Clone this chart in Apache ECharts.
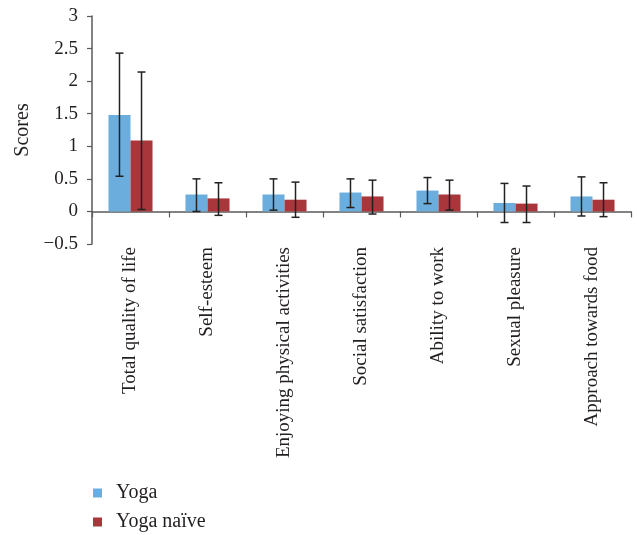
<!DOCTYPE html>
<html><head><meta charset="utf-8">
<script src="https://cdn.jsdelivr.net/npm/echarts@6/dist/echarts.min.js"></script>
<style>html,body{margin:0;padding:0;background:#fff}#c{width:637px;height:535px}</style>
</head><body><div id="c"></div>
<script>
const categories = ['Total quality of life','Self-esteem','Enjoying physical activities','Social satisfaction','Ability to work','Sexual pleasure','Approach towards food'];
const yogaValues = [1.48, 0.26, 0.26, 0.29, 0.32, 0.13, 0.23];
const yogaLow = [0.54, 0.0, 0.02, 0.06, 0.12, -0.17, -0.07];
const yogaHigh = [2.43, 0.50, 0.50, 0.50, 0.52, 0.43, 0.53];
const naiveValues = [1.09, 0.20, 0.18, 0.23, 0.26, 0.12, 0.18];
const naiveLow = [0.03, -0.06, -0.09, -0.04, 0.02, -0.17, -0.08];
const naiveHigh = [2.14, 0.44, 0.45, 0.48, 0.48, 0.39, 0.44];
const seriesNames = ['Yoga', 'Yoga naïve'];
const yTicks = {min: -0.5, max: 3, interval: 0.5};

const FONT = '"Liberation Serif", "DejaVu Serif", serif';
const TXT = '#231f20';
const AX = '#5a5a5a';
const BAR_FRAC = 0.286;

function errSeries(low, high, side) {
  return {
    type: 'custom',
    xAxisIndex: 0,
    z: 5,
    silent: true,
    data: categories.map((c, i) => [i, low[i], high[i]]),
    renderItem: function (params, api) {
      const i = api.value(0);
      const band = api.size([1, 0])[0];
      const bw = band * BAR_FRAC;
      const pLo = api.coord([i, api.value(1)]);
      const pHi = api.coord([i, api.value(2)]);
      const x = pLo[0] + side * bw / 2;
      const cap = 4;
      const st = {stroke: '#222', lineWidth: 1.5};
      return {type: 'group', children: [
        {type: 'line', shape: {x1: x, y1: pLo[1], x2: x, y2: pHi[1]}, style: st},
        {type: 'line', shape: {x1: x - cap, y1: pLo[1], x2: x + cap, y2: pLo[1]}, style: st},
        {type: 'line', shape: {x1: x - cap, y1: pHi[1], x2: x + cap, y2: pHi[1]}, style: st}
      ]};
    }
  };
}

function legendFor(name, top) {
  return {
    left: 88, top: top, itemWidth: 9, itemHeight: 9, icon: 'rect',
    data: [name],
    textStyle: {fontFamily: FONT, fontSize: 20, color: TXT, padding: [0, 0, 0, 9]}
  };
}

const chart = echarts.init(document.getElementById('c'));
chart.setOption({
  animation: false,
  grid: {left: 92, right: 6, top: 16, bottom: 291},
  legend: [legendFor(seriesNames[0], 478), legendFor(seriesNames[1], 507)],
  xAxis: [
    {
      type: 'category', data: categories, position: 'bottom',
      axisLine: {show: false, onZero: false}, axisTick: {show: false},
      axisLabel: {rotate: 90, margin: 3, fontFamily: FONT, fontSize: 19, color: TXT, interval: 0}
    },
    {
      type: 'category', data: categories, position: 'bottom',
      axisLine: {show: true, onZero: true, lineStyle: {color: AX, width: 1.5}},
      axisTick: {show: true, interval: 0, length: 6, lineStyle: {color: AX, width: 1.2}},
      axisLabel: {show: false, interval: 0}
    }
  ],
  yAxis: {
    type: 'value', min: yTicks.min, max: yTicks.max, interval: yTicks.interval,
    name: 'Scores', nameLocation: 'middle', nameGap: 58,
    nameTextStyle: {fontFamily: FONT, fontSize: 20, color: TXT},
    axisLine: {show: true, lineStyle: {color: AX, width: 1.5}},
    axisTick: {show: true, length: 5, lineStyle: {color: AX, width: 1.2}},
    splitLine: {show: false},
    axisLabel: {fontFamily: FONT, fontSize: 19, color: TXT, margin: 14,
      formatter: v => String(v).replace('-', '\u2212')}
  },
  series: [
    {name: seriesNames[0], type: 'bar', xAxisIndex: 0, data: yogaValues, barWidth: (BAR_FRAC*100)+'%', barGap: '0%', itemStyle: {color: '#6BAEDD'}},
    {name: seriesNames[1], type: 'bar', xAxisIndex: 0, data: naiveValues, barWidth: (BAR_FRAC*100)+'%', barGap: '0%', itemStyle: {color: '#A8363A'}},
    errSeries(yogaLow, yogaHigh, -1),
    errSeries(naiveLow, naiveHigh, 1)
  ]
});
</script></body></html>
